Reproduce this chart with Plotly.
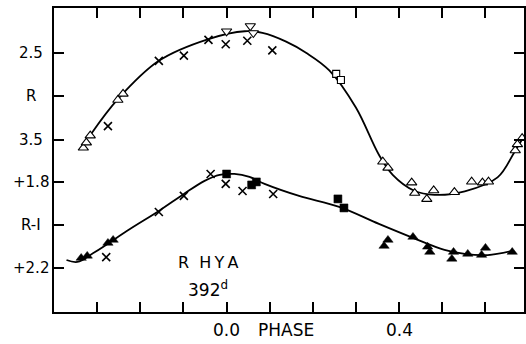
import plotly.graph_objects as go

# ---- R magnitude (upper light curve) ----
r_cross_phase = [-0.275, -0.157, -0.099, -0.042, -0.002, 0.048, 0.106]
r_cross_mag = [3.34, 2.59, 2.53, 2.35, 2.40, 2.36, 2.47]

r_tri_phase = [-0.332, -0.325, -0.316, -0.252, -0.240, 0.362, 0.374, 0.429, 0.436,
               0.464, 0.480, 0.528, 0.568, 0.593, 0.607, 0.669, 0.674, 0.685]
r_tri_mag = [3.59, 3.53, 3.45, 3.04, 2.97, 3.75, 3.82, 3.99, 4.11,
             4.18, 4.08, 4.10, 3.98, 3.99, 3.98, 3.62, 3.55, 3.48]

r_itri_phase = [0.0, 0.055, 0.062]
r_itri_mag = [2.25, 2.19, 2.27]

r_sq_phase = [0.254, 0.265]
r_sq_mag = [2.74, 2.81]

r_fit_phase = [-0.314, -0.252, -0.157, -0.042, 0.042, 0.083, 0.138, 0.185, 0.238,
               0.300, 0.353, 0.385, 0.434, 0.482, 0.552, 0.628, 0.667, 0.695]
r_fit_mag = [3.43, 3.03, 2.59, 2.34, 2.25, 2.27, 2.37, 2.50, 2.70,
             3.13, 3.67, 3.90, 4.08, 4.13, 4.09, 3.93, 3.64, 3.41]

# ---- R-I colour (lower curve) ----
ri_cross_phase = [-0.279, -0.157, -0.099, -0.037, -0.002, 0.037, 0.108]
ri_cross_val = [2.150, 1.940, 1.865, 1.763, 1.809, 1.842, 1.856]

ri_ftri_phase = [-0.337, -0.323, -0.275, -0.263, 0.365, 0.374, 0.432, 0.466,
                 0.471, 0.522, 0.526, 0.559, 0.591, 0.600, 0.662]
ri_ftri_val = [2.154, 2.144, 2.084, 2.070, 2.098, 2.070, 2.056, 2.102,
               2.126, 2.158, 2.126, 2.135, 2.140, 2.107, 2.126]

ri_fsq_phase = [0.0, 0.058, 0.069, 0.258, 0.272]
ri_fsq_val = [1.763, 1.814, 1.800, 1.879, 1.921]

ri_fit_phase = [-0.371, -0.346, -0.305, -0.224, -0.157, -0.099, -0.051, -0.016, 0.018,
                0.053, 0.088, 0.168, 0.261, 0.353, 0.432, 0.505, 0.552, 0.605, 0.662]
ri_fit_val = [2.163, 2.172, 2.126, 2.019, 1.935, 1.856, 1.795, 1.767, 1.763,
              1.777, 1.809, 1.865, 1.916, 1.995, 2.060, 2.116, 2.135, 2.140, 2.121]

# ---- axis ticks and labels ----
phase_ticks = [-0.3, -0.2, -0.1, 0.0, 0.1, 0.2, 0.3, 0.4, 0.5, 0.6]
phase_label_vals = [0.0, 0.4]
phase_labels = ["0.0", "0.4"]
r_ticks = [2.5, 3.0, 3.5]
r_labels = ["2.5", "R", "3.5"]
ri_ticks = [1.8, 2.0, 2.2]
ri_labels = ["+1.8", "R-I", "+2.2"]

FONT = "DejaVu Sans, Verdana, sans-serif"
INK = "black"

fig = go.Figure()

# fitted curves
fig.add_trace(go.Scatter(x=r_fit_phase, y=r_fit_mag, mode="lines",
                         line=dict(color=INK, width=1.8, shape="spline", smoothing=1.0),
                         yaxis="y", hoverinfo="skip"))
fig.add_trace(go.Scatter(x=ri_fit_phase, y=ri_fit_val, mode="lines",
                         line=dict(color=INK, width=1.8, shape="spline", smoothing=1.0),
                         yaxis="y2", hoverinfo="skip"))

# upper curve observations
fig.add_trace(go.Scatter(x=r_cross_phase, y=r_cross_mag, mode="markers", yaxis="y",
                         marker=dict(symbol="x-thin-open", size=8, color=INK,
                                     line=dict(color=INK, width=1.6))))
fig.add_trace(go.Scatter(x=r_tri_phase, y=r_tri_mag, mode="markers", yaxis="y",
                         marker=dict(symbol="triangle-up", size=9, color="white",
                                     line=dict(color=INK, width=1.1))))
fig.add_trace(go.Scatter(x=r_itri_phase, y=r_itri_mag, mode="markers", yaxis="y",
                         marker=dict(symbol="triangle-down", size=9, color="white",
                                     line=dict(color=INK, width=1.1))))
fig.add_trace(go.Scatter(x=r_sq_phase, y=r_sq_mag, mode="markers", yaxis="y",
                         marker=dict(symbol="square", size=7, color="white",
                                     line=dict(color=INK, width=1.1))))

# lower curve observations
fig.add_trace(go.Scatter(x=ri_cross_phase, y=ri_cross_val, mode="markers", yaxis="y2",
                         marker=dict(symbol="x-thin-open", size=8, color=INK,
                                     line=dict(color=INK, width=1.6))))
fig.add_trace(go.Scatter(x=ri_ftri_phase, y=ri_ftri_val, mode="markers", yaxis="y2",
                         marker=dict(symbol="triangle-up", size=9, color=INK,
                                     line=dict(color=INK, width=0.5))))
fig.add_trace(go.Scatter(x=ri_fsq_phase, y=ri_fsq_val, mode="markers", yaxis="y2",
                         marker=dict(symbol="square", size=8, color=INK,
                                     line=dict(color=INK, width=0.5))))

axis_common = dict(showline=True, linecolor=INK, linewidth=2, ticks="inside",
                   ticklen=10, tickwidth=2, tickcolor=INK, mirror="ticks",
                   showgrid=False, zeroline=False, showticklabels=False)

fig.update_layout(
    width=526, height=344,
    margin=dict(l=54, r=0, t=8, b=32),
    paper_bgcolor="white", plot_bgcolor="white",
    showlegend=False,
    font=dict(family=FONT, color=INK, size=15),
    xaxis=dict(range=[-0.4, 0.6893], tickvals=phase_ticks, **axis_common),
    yaxis=dict(range=[5.477, 1.983], tickvals=r_ticks, **axis_common),
    yaxis2=dict(range=[2.405, 0.991], tickvals=ri_ticks,
                overlaying="y", side="left", **axis_common),
)

# y tick labels, centred in the left margin
for v, t in zip(r_ticks, r_labels):
    fig.add_annotation(x=-0.049, xref="paper", y=v, yref="y", text=t,
                       showarrow=False, xanchor="center", yanchor="middle",
                       font=dict(size=15, family=FONT, color=INK))
for v, t in zip(ri_ticks, ri_labels):
    fig.add_annotation(x=-0.049, xref="paper", y=v, yref="y2", text=t,
                       showarrow=False, xanchor="center", yanchor="middle",
                       font=dict(size=15, family=FONT, color=INK))

# phase labels and axis title below the frame
for v, t in zip(phase_label_vals, phase_labels):
    fig.add_annotation(x=v, xref="x", y=-0.06, yref="paper", text=t,
                       showarrow=False, xanchor="center", yanchor="middle",
                       font=dict(size=17, family=FONT, color=INK))
fig.add_annotation(x=0.138, xref="x", y=-0.06, yref="paper", text="PHASE",
                   showarrow=False, xanchor="center", yanchor="middle",
                   font=dict(size=17, family=FONT, color=INK))

# star name and period
fig.add_annotation(x=-0.044, xref="x", y=2.177, yref="y2",
                   text="R\u00a0\u00a0H\u2009Y\u2009A", showarrow=False,
                   xanchor="center", yanchor="middle",
                   font=dict(size=16, family=FONT, color=INK))
fig.add_annotation(x=-0.044, xref="x", y=2.30, yref="y2", text="392<sup>d</sup>",
                   showarrow=False, xanchor="center", yanchor="middle",
                   font=dict(size=17, family=FONT, color=INK))

fig.write_html("out.html")
